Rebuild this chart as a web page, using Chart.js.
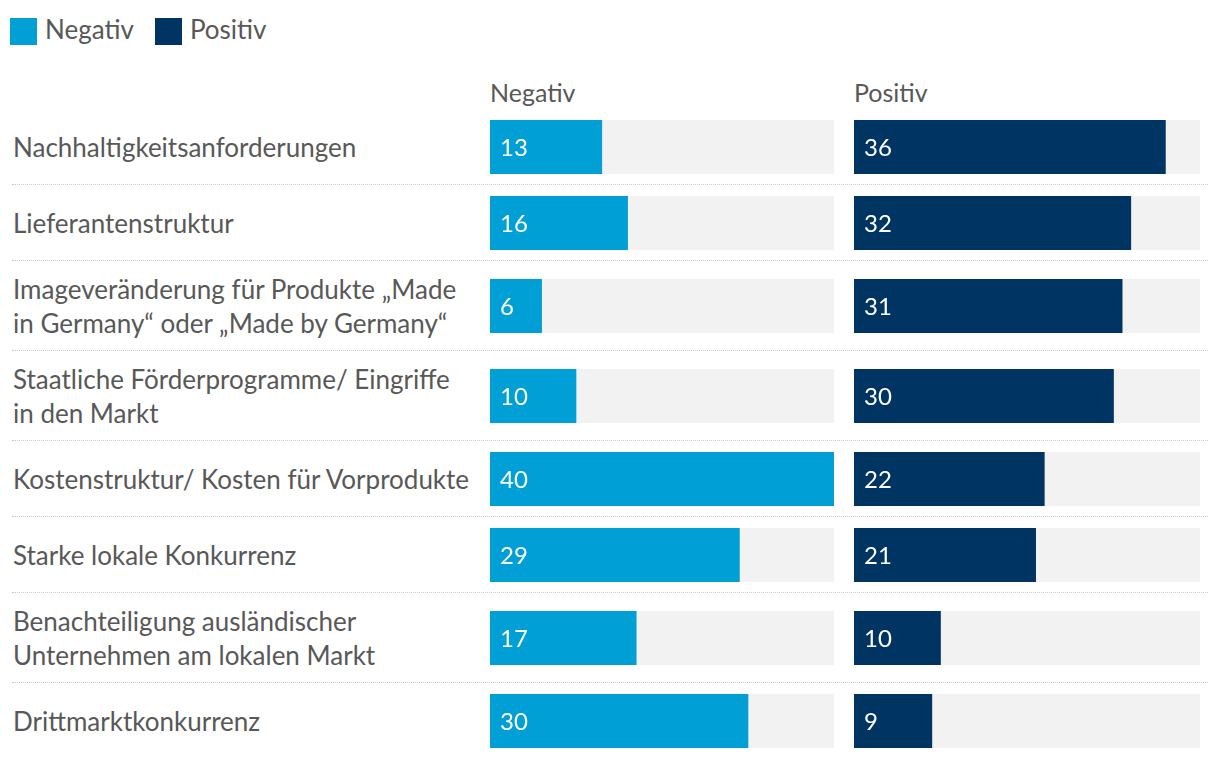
<!DOCTYPE html>
<html>
<head>
<meta charset="utf-8">
<script src="https://cdn.jsdelivr.net/npm/chart.js@4"></script>
<style>
  html, body { margin: 0; padding: 0; background: #fff; }
  body { width: 1220px; height: 758px; overflow: hidden; font-family: Lato, sans-serif; color: #585858; }
  .legend { position: absolute; left: 10px; top: 18px; display: flex; align-items: center; font-size: 26px; line-height: 27px; }
  .legend .item { display: flex; align-items: center; margin-right: 21px; }
  .legend .sw { width: 27px; height: 27px; margin-right: 8px; }
  .legend .txt { position: relative; top: -2px; }
  .table { position: absolute; left: 12px; top: 79px; width: 1196px; }
  .head, .row { display: grid; grid-template-columns: 478px 344px 20px 346px; }
  .head { height: 30px; font-size: 25px; line-height: 26px; }
  .row { padding: 11px 0 10px 0; border-bottom: 1px dotted #c8c8c8; align-items: center; }
  .row:last-child { border-bottom: none; }
  .label { font-size: 26px; line-height: 34px; white-space: pre; padding-left: 1px; }
  .cell { position: relative; height: 54px; }
</style>
</head>
<body>
<div class="legend" id="legend"></div>
<div class="table" id="table">
  <div class="head"><div></div><div id="h0"></div><div></div><div id="h1"></div></div>
</div>
<script>
// ── data ───────────────────────────────────────────────
const categories = [
  'Nachhaltigkeitsanforderungen',
  'Lieferantenstruktur',
  'Imageveränderung für Produkte „Made\nin Germany“ oder „Made by Germany“',
  'Staatliche Förderprogramme/ Eingriffe\nin den Markt',
  'Kostenstruktur/ Kosten für Vorprodukte',
  'Starke lokale Konkurrenz',
  'Benachteiligung ausländischer\nUnternehmen am lokalen Markt',
  'Drittmarktkonkurrenz',
];
const seriesNames = ['Negativ', 'Positiv'];
const negativ = [13, 16, 6, 10, 40, 29, 17, 30];
const positiv = [36, 32, 31, 30, 22, 21, 10, 9];
const scaleMax = 40;

const colors = ['#009fd6', '#003463'];
const trackColor = '#f2f2f2';
const series = [negativ, positiv];

// ── legend + headers ───────────────────────────────────
const legend = document.getElementById('legend');
seriesNames.forEach((name, i) => {
  const item = document.createElement('div');
  item.className = 'item';
  item.innerHTML = `<span class="sw" style="background:${colors[i]}"></span><span class="txt">${name}</span>`;
  legend.appendChild(item);
  document.getElementById('h' + i).textContent = name;
});

// value label inside each bar
const valueLabels = {
  id: 'valueLabels',
  afterDatasetsDraw(chart) {
    const { ctx } = chart;
    const meta = chart.getDatasetMeta(0);
    ctx.save();
    ctx.fillStyle = '#ffffff';
    ctx.font = '24px Lato';
    ctx.textBaseline = 'middle';
    meta.data.forEach((bar, i) => {
      ctx.fillText(chart.data.datasets[0].data[i], bar.base + 10, bar.y + 1);
    });
    ctx.restore();
  }
};

function makeBar(parent, value, color) {
  const cell = document.createElement('div');
  cell.className = 'cell';
  const canvas = document.createElement('canvas');
  cell.appendChild(canvas);
  parent.appendChild(cell);

  new Chart(canvas, {
    type: 'bar',
    data: {
      labels: [''],
      datasets: [
        { data: [value], backgroundColor: color, barPercentage: 1, categoryPercentage: 1 },
        { data: [scaleMax], backgroundColor: trackColor, barPercentage: 1, categoryPercentage: 1 },
      ]
    },
    options: {
      indexAxis: 'y',
      responsive: true,
      maintainAspectRatio: false,
      animation: false,
      layout: { padding: 0 },
      datasets: { bar: { grouped: false, borderWidth: 0 } },
      plugins: { legend: { display: false }, tooltip: { enabled: false } },
      scales: {
        x: { display: false, min: 0, max: scaleMax },
        y: { display: false }
      }
    },
    plugins: [valueLabels]
  });
}

// ── rows ───────────────────────────────────────────────
const table = document.getElementById('table');
categories.forEach((cat, r) => {
  const row = document.createElement('div');
  row.className = 'row';
  const label = document.createElement('div');
  label.className = 'label';
  label.textContent = cat;
  row.appendChild(label);
  makeBar(row, series[0][r], colors[0]);
  row.appendChild(document.createElement('div'));
  makeBar(row, series[1][r], colors[1]);
  table.appendChild(row);
});
</script>
</body>
</html>
